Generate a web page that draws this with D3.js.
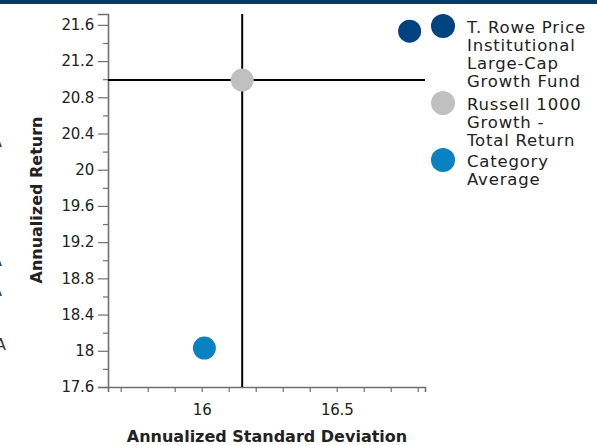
<!DOCTYPE html>
<html>
<head>
<meta charset="utf-8">
<script src="https://cdn.jsdelivr.net/npm/d3@7"></script>
<style>
  html, body { margin: 0; padding: 0; background: #fff; }
  svg { display: block; font-family: "DejaVu Sans", sans-serif; }
</style>
</head>
<body>
<svg id="chart" width="597" height="445"></svg>
<script>
// Risk / return points
const seriesNames = [
  ["T. Rowe Price", "Institutional", "Large-Cap", "Growth Fund"],
  ["Russell 1000", "Growth -", "Total Return"],
  ["Category", "Average"]
];
const stdDev = [16.77, 16.15, 16.01];
const annReturn = [21.53, 20.99, 18.03];
const colors = ["#00437e", "#c0c0c0", "#0a82c2"];

// Crosshair drawn through the benchmark
const crossX = 16.15;
const crossY = 20.99;

const yTickLabels = [17.6, 18, 18.4, 18.8, 19.2, 19.6, 20, 20.4, 20.8, 21.2, 21.6];
const yMinorTicks = [17.8, 18.2, 18.6, 19.0, 19.4, 19.8, 20.2, 20.6, 21.0, 21.4];
const xTickLabels = [16, 16.5];
const xMinorTicks = [15.7, 15.8, 15.9, 16.1, 16.2, 16.3, 16.4, 16.6, 16.7, 16.8];

const svg = d3.select("#chart");
const font = "DejaVu Sans";
const textColor = "#222";

// top band
svg.append("rect").attr("x", 0).attr("y", 0).attr("width", 597).attr("height", 4).attr("fill", "#003c6c");

// clipped text from the neighbouring panel
const edgeRows = [[147, 2], [266, 2], [296, 2], [350, 6]];
svg.append("g").selectAll("text").data(edgeRows).join("text")
  .attr("x", d => d[1]).attr("y", d => d[0])
  .attr("text-anchor", "end").attr("font-size", 16).attr("fill", "#333")
  .text("A");

const x = d3.scaleLinear().domain([15.653, 16.827]).range([108, 425]);
const y = d3.scaleLinear().domain([17.6, 21.72]).range([387, 14]);

const axisColor = "#707070";

function styleTicks(g) {
  g.selectAll(".tick line").attr("stroke", axisColor).attr("stroke-width", 1.2);
  g.selectAll(".tick text").attr("font-size", 15).attr("fill", textColor)
    .attr("font-family", font).attr("letter-spacing", -0.2);
}

// Y axis
const yAxis = svg.append("g").attr("transform", "translate(108,0)");
yAxis.call(d3.axisLeft(y).tickValues(yTickLabels).tickSize(10).tickPadding(4).tickFormat(d3.format("~g")));
yAxis.select(".domain").attr("stroke", axisColor).attr("stroke-width", 1.6);
styleTicks(yAxis);
const yMinor = svg.append("g").attr("transform", "translate(108,0)");
yMinor.call(d3.axisLeft(y).tickValues(yMinorTicks).tickSize(5).tickFormat(""));
yMinor.select(".domain").remove();
styleTicks(yMinor);

// X axis
const xAxis = svg.append("g").attr("transform", "translate(0,387)");
xAxis.call(d3.axisBottom(x).tickValues(xTickLabels).tickSize(5).tickPadding(12).tickFormat(d3.format("~g")));
xAxis.select(".domain").attr("stroke", axisColor).attr("stroke-width", 1.6);
styleTicks(xAxis);
const xMinor = svg.append("g").attr("transform", "translate(0,387)");
xMinor.call(d3.axisBottom(x).tickValues(xMinorTicks).tickSize(5).tickFormat(""));
xMinor.select(".domain").remove();
styleTicks(xMinor);

// axis titles
svg.append("text").attr("x", 267).attr("y", 442).attr("text-anchor", "middle")
  .attr("font-size", 16).attr("font-weight", "bold").attr("fill", textColor)
  .text("Annualized Standard Deviation");
svg.append("text").attr("transform", "translate(42,200) rotate(-90)").attr("text-anchor", "middle")
  .attr("font-size", 16).attr("font-weight", "bold").attr("fill", textColor)
  .text("Annualized Return");

// crosshair
svg.append("line").attr("x1", x(crossX)).attr("x2", x(crossX)).attr("y1", y.range()[1]).attr("y2", y.range()[0])
  .attr("stroke", "#000").attr("stroke-width", 2);
svg.append("line").attr("x1", x.range()[0]).attr("x2", x.range()[1]).attr("y1", y(crossY)).attr("y2", y(crossY))
  .attr("stroke", "#000").attr("stroke-width", 2);

// points
svg.append("g").selectAll("circle").data(stdDev).join("circle")
  .attr("cx", (d) => x(d)).attr("cy", (d, i) => y(annReturn[i]))
  .attr("r", 11.5).attr("fill", (d, i) => colors[i]);

// legend
const legendY = [26, 103, 160];
const legend = svg.append("g").selectAll("g").data(seriesNames).join("g")
  .attr("transform", (d, i) => `translate(443,${legendY[i]})`);
legend.append("circle").attr("r", 12).attr("fill", (d, i) => colors[i]);
legend.append("text").attr("x", 24).attr("y", 6.5).attr("font-size", 16.5).attr("fill", textColor)
  .attr("letter-spacing", 0.8)
  .selectAll("tspan").data(d => d).join("tspan")
  .attr("x", 24).attr("dy", (d, i) => i === 0 ? 0 : 18)
  .text(d => d);
</script>
</body>
</html>
